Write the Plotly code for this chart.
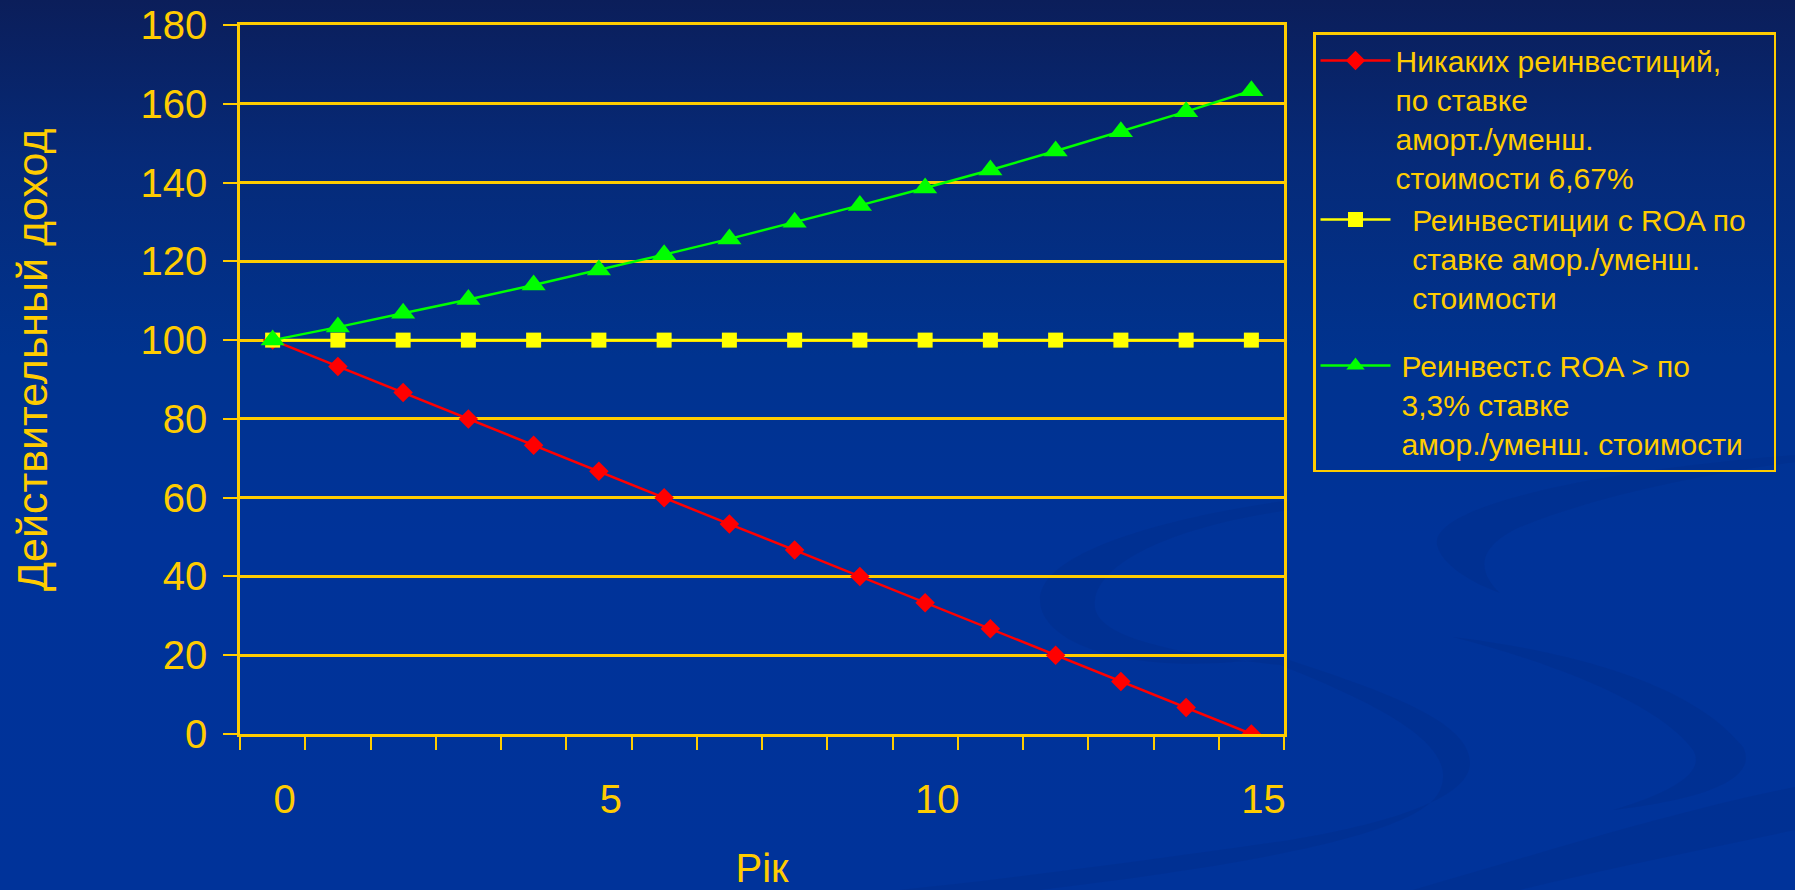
import base64
import plotly.graph_objects as go

# ---------------- data ----------------
years = [0, 1, 2, 3, 4, 5, 6, 7, 8, 9, 10, 11, 12, 13, 14, 15]
no_reinvest = [100, 93.3, 86.7, 80, 73.3, 66.7, 60, 53.3, 46.7, 40, 33.3, 26.7, 20, 13.3, 6.7, 0]
reinvest_same = [100, 100, 100, 100, 100, 100, 100, 100, 100, 100, 100, 100, 100, 100, 100, 100]
reinvest_higher = [100, 103.3, 106.8, 110.3, 114.0, 117.8, 121.7, 125.7, 129.9, 134.2,
                   138.6, 143.2, 148.0, 152.9, 158.0, 163.3]
x_tick_vals = [0, 5, 10, 15]
x_tick_text = ["0", "5", "10", "15"]
series_names = [
    "Никаких реинвестиций,<br>по ставке<br>аморт./уменш.<br>стоимости 6,67%",
    "\u00a0\u00a0Реинвестиции с ROA по<br>\u00a0\u00a0ставке амор./уменш.<br>\u00a0\u00a0стоимости",
    "\u2009Реинвест.с ROA > по<br>\u20093,3% ставке<br>\u2009амор./уменш. стоимости\u00a0\u00a0\u00a0",
]
y_title = "Действительный доход"
x_title = "Рік"

# ---------------- styling ----------------
W, H = 1795, 890
ML, MR, MT, MB = 240, 511, 25, 156
PW, PH = W - ML - MR, H - MT - MB
GOLD = "#FFCC00"
FONT = "Liberation Sans, Arial, sans-serif"

svg = f"""<svg xmlns='http://www.w3.org/2000/svg' width='{W}' height='{H}' viewBox='0 0 {W} {H}'>
<defs><linearGradient id='g' x1='0' y1='0' x2='0' y2='1'>
<stop offset='0' stop-color='#0b1e5a'/>
<stop offset='0.18' stop-color='#062a78'/>
<stop offset='0.40' stop-color='#00338f'/>
<stop offset='0.60' stop-color='#003399'/>
<stop offset='1' stop-color='#00339a'/>
</linearGradient></defs>
<rect width='{W}' height='{H}' fill='url(#g)'/>
<g fill='#002c86' fill-opacity='0.3'>
<path d='M1795,455 C1600,470 1430,505 1437,545 C1442,565 1470,582 1500,593 C1478,572 1475,548 1520,527 C1600,495 1700,475 1795,462 Z'/>
<path d='M1290,500 C1150,520 1040,555 1040,600 C1040,640 1120,680 1280,657 C1380,690 1470,720 1470,763 C1470,800 1380,825 1290,840 C1150,860 1000,880 900,890 L1040,890 C1200,870 1420,840 1440,790 C1460,745 1380,705 1280,665 C1140,650 1090,630 1095,600 C1100,560 1180,525 1290,510 Z'/>
<path d='M1453,637 C1560,650 1690,680 1743,747 C1760,780 1700,800 1613,810 C1680,790 1705,770 1693,750 C1660,705 1560,665 1453,637 Z'/>
<path d='M1413,890 C1550,850 1680,810 1795,787 L1795,830 C1700,850 1600,870 1520,890 Z'/>
</g>
</svg>"""
bg_uri = "data:image/svg+xml;base64," + base64.b64encode(svg.encode("utf-8")).decode("ascii")

fig = go.Figure()
fig.add_trace(go.Scatter(
    x=years, y=no_reinvest, name=series_names[0], mode="lines+markers",
    legendgroup="g1",
    line=dict(color="#FF0000", width=2.5),
    marker=dict(symbol="diamond", size=15, color="#FF0000"),
))
fig.add_trace(go.Scatter(
    x=years, y=reinvest_same, name=series_names[1], mode="lines+markers",
    legendgroup="g1",
    line=dict(color="#FFFF00", width=2.5),
    marker=dict(symbol="square", size=15, color="#FFFF00"),
))
fig.add_trace(go.Scatter(
    x=years, y=reinvest_higher, name=series_names[2], mode="lines+markers",
    legendgroup="g2",
    line=dict(color="#00FF00", width=2.5),
    marker=dict(symbol="triangle-up", size=21, color="#00FF00"),
))

fig.update_layout(
    width=W, height=H,
    margin=dict(l=ML, r=MR, t=MT, b=MB, pad=0),
    paper_bgcolor="#003399",
    plot_bgcolor="rgba(0,0,0,0)",
    font=dict(family=FONT, color=GOLD, size=40),
    images=[dict(
        source=bg_uri, xref="paper", yref="paper",
        x=-ML / PW, y=1 + MT / PH, sizex=W / PW, sizey=H / PH,
        xanchor="left", yanchor="top", sizing="stretch", layer="below",
    )],
    showlegend=True,
    legend=dict(
        x=1 + (1313 - (ML + PW)) / PW, y=1 - (32 - MT) / PH,
        xanchor="left", yanchor="top",
        bordercolor=GOLD, borderwidth=2.5, bgcolor="rgba(0,0,0,0)",
        font=dict(family=FONT, size=30, color=GOLD),
        valign="top", itemwidth=70, tracegroupgap=26,
        traceorder="grouped",
    ),
    annotations=[dict(
        text=y_title, textangle=-90, showarrow=False,
        xref="paper", yref="paper",
        x=(32 - ML) / PW, y=1 - (360 - MT) / PH,
        xanchor="center", yanchor="middle",
        font=dict(family=FONT, size=43, color=GOLD),
    )],
    xaxis=dict(
        range=[-0.5, 15.5], tickvals=x_tick_vals, ticktext=x_tick_text,
        ticks="", showgrid=False, zeroline=False,
        showline=True, linecolor=GOLD, linewidth=2.5, mirror=True,
        tickfont=dict(size=40, color=GOLD),
        ticklabelshift=12, ticklabelstandoff=28,
        minor=dict(tickvals=[v - 0.5 for v in years] + [15.5], ticks="outside",
                   ticklen=13, tickwidth=2, tickcolor=GOLD, showgrid=False),
        title=dict(text=x_title, font=dict(size=40, color=GOLD), standoff=68),
        automargin=False,
    ),
    yaxis=dict(
        range=[0, 180], tick0=0, dtick=20,
        showgrid=True, gridcolor=GOLD, gridwidth=2.5, zeroline=False,
        showline=True, linecolor=GOLD, linewidth=2.5, mirror=True,
        ticks="outside", ticklen=14, tickwidth=2, tickcolor=GOLD,
        tickfont=dict(size=40, color=GOLD),
        ticklabelstandoff=8,
        automargin=False,
    ),
)

fig.write_html("out.html", config={"displayModeBar": False},
               post_script="document.body.style.margin='0';")
